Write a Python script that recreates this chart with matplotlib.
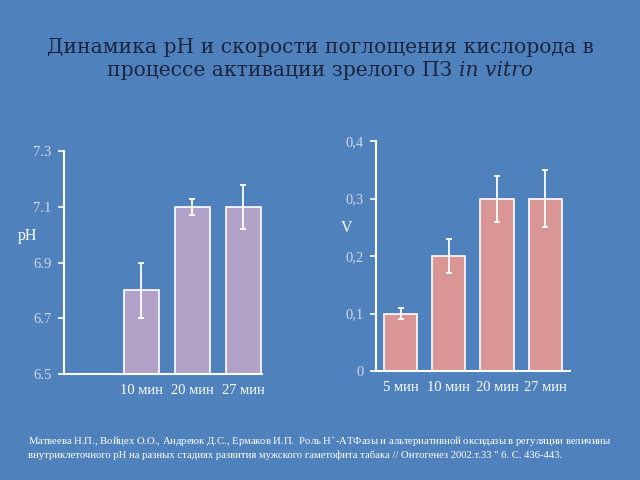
import matplotlib.pyplot as plt

# Data
ph_labels = ["", "10 мин", "20 мин", "27 мин"]
ph_values = [6.5, 6.8, 7.1, 7.1]
ph_err = [0.0, 0.1, 0.03, 0.08]
ph_ticks = [6.5, 6.7, 6.9, 7.1, 7.3]

v_labels = ["5 мин", "10 мин", "20 мин", "27 мин"]
v_values = [0.1, 0.2, 0.3, 0.3]
v_err = [0.01, 0.03, 0.04, 0.05]
v_ticks = [0, 0.1, 0.2, 0.3, 0.4]
v_ticklabels = ["0", "0,1", "0,2", "0,3", "0,4"]

bg = "#4f81bd"
serif = ["Liberation Serif", "DejaVu Serif"]
title_font = ["DejaVu Serif"]
tick_col = "#d0d9e8"

plt.rcParams["mathtext.fontset"] = "custom"
plt.rcParams["mathtext.rm"] = "Liberation Serif"
plt.rcParams["mathtext.it"] = "Liberation Serif:italic"

fig = plt.figure(figsize=(6.4, 4.8), dpi=100, facecolor=bg)

fig.text(0.5, 0.902, "Динамика pH и скорости поглощения кислорода в",
         ha="center", va="center", fontsize=14.6, color="#1b2540", family=title_font)
# second title line: regular part + italic part placed side by side
t_reg = fig.text(0, 0.853, "процессе активации зрелого ПЗ ", ha="left",
                 va="center", fontsize=14.6, color="#1b2540", family=title_font)
t_it = fig.text(0, 0.853, "in vitro", ha="left", va="center", fontsize=14.6,
                color="#1b2540", family=title_font, style="italic")
fig.canvas.draw()
r = fig.canvas.get_renderer()
w_reg = t_reg.get_window_extent(r).width / fig.bbox.width
w_it = t_it.get_window_extent(r).width / fig.bbox.width
x0 = 0.5 - (w_reg + w_it) / 2
t_reg.set_x(x0)
t_it.set_x(x0 + w_reg)


def style_axes(ax):
    ax.set_facecolor(bg)
    for s in ["top", "right"]:
        ax.spines[s].set_visible(False)
    for s in ["left", "bottom"]:
        ax.spines[s].set_color("white")
        ax.spines[s].set_linewidth(1.5)
    ax.tick_params(axis="y", colors="white", labelcolor=tick_col, length=4,
                   width=1.2, labelsize=10.5, pad=5)
    ax.tick_params(axis="x", length=0, labelcolor="white", labelsize=10.5, pad=7)
    for lab in ax.get_xticklabels() + ax.get_yticklabels():
        lab.set_family(serif)


# left: pH
ax1 = fig.add_axes([0.1, 0.221, 0.309, 0.464])
x1 = range(len(ph_values))
ax1.bar(x1, [v - 6.5 for v in ph_values], bottom=6.5, width=0.69,
        color="#b3a2c7", edgecolor="white", linewidth=1.2)
ax1.errorbar(list(x1)[1:], ph_values[1:], yerr=ph_err[1:], fmt="none",
             ecolor="white", elinewidth=1.3, capsize=2, capthick=1.3)
ax1.set_ylim(6.5, 7.3)
ax1.set_xlim(-0.52, 3.36)
ax1.set_yticks(ph_ticks)
ax1.set_yticklabels([f"{t:.1f}" for t in ph_ticks])
ax1.set_xticks(list(x1))
ax1.set_xticklabels(ph_labels)
style_axes(ax1)
fig.text(0.028, 0.508, "pH", color="white", fontsize=11.5, family=serif,
         va="center")

# right: V
ax2 = fig.add_axes([0.5875, 0.227, 0.303, 0.479])
x2 = range(len(v_values))
ax2.bar(x2, v_values, width=0.69, color="#d99694", edgecolor="white",
        linewidth=1.2)
ax2.errorbar(list(x2), v_values, yerr=v_err, fmt="none", ecolor="white",
             elinewidth=1.3, capsize=2, capthick=1.3)
ax2.set_ylim(0, 0.4)
ax2.set_xlim(-0.51, 3.51)
ax2.set_yticks(v_ticks)
ax2.set_yticklabels(v_ticklabels)
ax2.set_xticks(list(x2))
ax2.set_xticklabels(v_labels)
style_axes(ax2)
fig.text(0.532, 0.525, "V", color="white", fontsize=11.5, family=serif,
         va="center")

fig.text(0.043, 0.069,
         "Матвеева Н.П., Войцех О.О., Андреюк Д.С., Ермаков И.П.  Роль Н$^{+}$-АТФазы и альтернативной оксидазы в регуляции величины\n"
         "внутриклеточного pH на разных стадиях развития мужского гаметофита табака // Онтогенез 2002.т.33 \" 6. С. 436-443.",
         color="white", fontsize=7.7, family=serif, va="center", ha="left",
         linespacing=1.35)

fig.savefig("out.png", dpi=100, facecolor=bg)
